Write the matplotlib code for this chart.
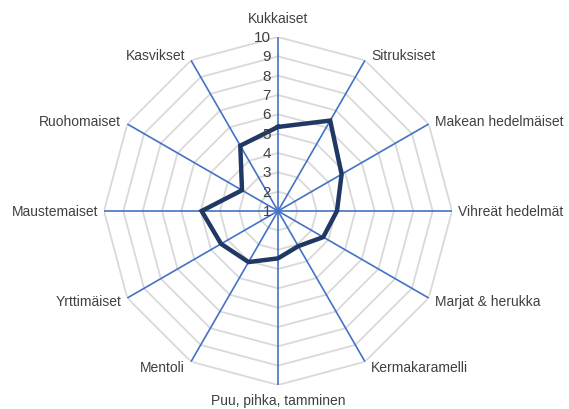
import numpy as np
import matplotlib
matplotlib.use("Agg")
import matplotlib.pyplot as plt

categories = ["Kukkaiset", "Sitruksiset", "Makean hedelmäiset", "Vihreät hedelmät",
              "Marjat & herukka", "Kermakaramelli", "Puu, pihka, tamminen", "Mentoli",
              "Yrttimäiset", "Maustemaiset", "Ruohomaiset", "Kasvikset"]
values = [5.35, 6.4, 4.8, 4.05, 3.7, 3.1, 3.45, 4.05, 4.4, 4.95, 3.15, 4.9]
ticks = [1, 2, 3, 4, 5, 6, 7, 8, 9, 10]

plt.rcParams['font.family'] = ['Liberation Sans', 'DejaVu Sans']
text_color = "#404040"

W, H = 569, 410
fig = plt.figure(figsize=(W / 100, H / 100), dpi=100)
cx, cy, R = 278, 212, 174
ax = fig.add_axes([(cx - R) / W, (H - cy - R) / H, 2 * R / W, 2 * R / H], projection='polar')
ax.set_theta_zero_location('N')
ax.set_theta_direction(-1)
ax.set_ylim(1, 10)
ax.grid(False)
ax.set_xticks([])
ax.set_yticks([])
ax.spines['polar'].set_visible(False)
ax.patch.set_visible(False)

n = len(categories)
theta = np.arange(n) * 2 * np.pi / n
theta_c = np.append(theta, theta[0])

# polygon rings
for t in ticks[1:]:
    ax.plot(theta_c, [t] * (n + 1), color="#d9d9d9", lw=1.3, zorder=1)
# spokes
for th in theta:
    ax.plot([th, th], [ticks[0], ticks[-1]], color="#4472c4", lw=1.2, zorder=2)

# series
vals_c = values + [values[0]]
ax.plot(theta_c, vals_c, color="#203864", lw=3.2, zorder=3, solid_joinstyle='miter')

# radial tick labels
for t in ticks:
    ax.annotate(str(t), xy=(0, t), xytext=(-7, 0), textcoords='offset pixels',
                ha='right', va='center', fontsize=11, color=text_color)

# category labels
for th, lab in zip(theta, categories):
    s, c = np.sin(th), np.cos(th)
    if abs(s) < 1e-6:
        ha = 'center'
        dx, dy = 0, (19 if c > 0 else 15) * np.sign(c)
    else:
        ha = 'left' if s > 0 else 'right'
        dx, dy = 6 * np.sign(s), 6 * c
    ax.annotate(lab, xy=(th, ticks[-1]), xytext=(dx, dy), textcoords='offset pixels',
                ha=ha, va='center', fontsize=10, color=text_color, annotation_clip=False)

fig.savefig("out.png", dpi=100)
